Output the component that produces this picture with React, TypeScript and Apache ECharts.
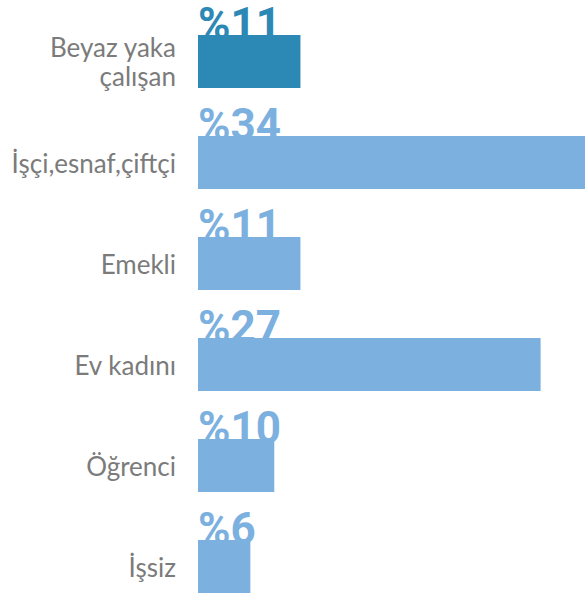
import React, { useEffect, useRef } from "react";
import * as echarts from "echarts";

const categories = ["Beyaz yaka\nçalışan", "İşçi,esnaf,çiftçi", "Emekli", "Ev kadını", "Öğrenci", "İşsiz"];
// shares shown in the labels
const shares = [11, 34, 11, 27, 10, 6];
// bar lengths as drawn in the picture (axis units, axis 0..34)
const barLengths = [9.0, 34, 9.0, 30.1, 6.7, 4.6];
const barColors = ["#2c88b4", "#7bb0df", "#7bb0df", "#7bb0df", "#7bb0df", "#7bb0df"];

export default function App() {
  const ref = useRef<HTMLDivElement>(null);
  useEffect(() => {
    if (!ref.current) return;
    const chart = echarts.init(ref.current, null, { renderer: "svg" });
    chart.setOption({
      animation: false,
      grid: { left: 198, right: 0, top: 11, bottom: 0, containLabel: false },
      xAxis: { type: "value", min: 0, max: 34, show: false },
      yAxis: {
        type: "category",
        inverse: true,
        data: categories,
        axisLine: { show: false },
        axisTick: { show: false },
        splitLine: { show: false },
        axisLabel: {
          margin: 22,
          fontSize: 26,
          lineHeight: 29,
          color: "#7b7b7b",
          fontFamily: "Lato",
          align: "right",
        },
      },
      series: [
        {
          type: "bar",
          z: 1,
          barWidth: 53,
          data: barLengths.map((v, i) => ({
            value: v,
            label: { color: barColors[i] },
          })),
          itemStyle: { color: "rgba(0,0,0,0)" },
          label: {
            show: true,
            position: [0, -33],
            fontFamily: "Roboto",
            fontWeight: "bold",
            fontSize: 44,
            formatter: (p: any) => "%" + shares[p.dataIndex],
          },
          silent: true,
        },
        {
          type: "bar",
          z: 2,
          barWidth: 53,
          barGap: "-100%",
          data: barLengths.map((v, i) => ({ value: v, itemStyle: { color: barColors[i] } })),
        },
      ],
    });
    return () => chart.dispose();
  }, []);
  return (
    <div style={{ position: "absolute", left: 0, top: 0, width: 585, height: 599, overflow: "hidden" }}>
      <div ref={ref} style={{ width: 585, height: 617 }} />
    </div>
  );
}
